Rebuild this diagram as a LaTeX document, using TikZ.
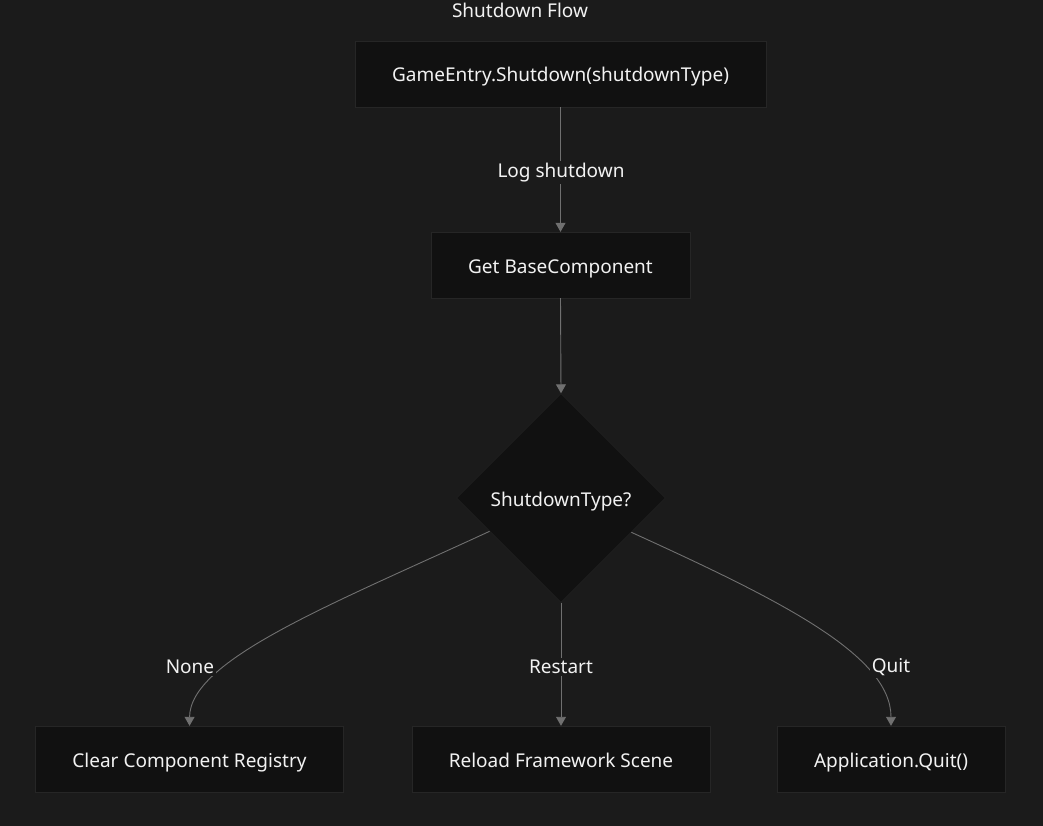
\documentclass[tikz,border=0pt]{standalone}
\usepackage{fontspec}
\setmainfont{Noto Sans}
\usetikzlibrary{shapes.geometric,arrows.meta}
\definecolor{pagebg}{RGB}{27,27,27}
\definecolor{boxfill}{RGB}{17,17,17}
\definecolor{boxline}{RGB}{38,38,38}
\definecolor{edgecol}{RGB}{112,112,112}
\definecolor{txt}{RGB}{242,242,242}
\tikzset{
  stepbox/.style={draw=boxline,fill=boxfill,text=txt,minimum height=66pt,inner xsep=37pt,text height=19pt,text depth=3pt,font=\fontsize{19}{22}\selectfont},
  choice/.style={diamond,draw=boxline,fill=boxfill,text=txt,minimum size=209pt,inner sep=0pt,aspect=1,text height=19pt,text depth=2pt,font=\fontsize{19}{22}\selectfont},
  edgelbl/.style={fill=pagebg,text=txt,inner sep=2pt,font=\fontsize{19}{22}\selectfont},
  flow/.style={draw=edgecol,line width=0.9pt,-{Triangle[width=10pt,length=9pt]}}
}
\begin{document}
\begin{tikzpicture}[x=1pt,y=-1pt]
\fill[pagebg] (0,0) rectangle (1043,826);
\useasboundingbox (0,0) rectangle (1043,826);
\node[text=txt,font=\fontsize{19}{22}\selectfont] (title) at (520,10) {Shutdown Flow};
\node[stepbox] (entry) at (560.5,74) {GameEntry.Shutdown(shutdownType)};
\node[stepbox] (getbase) at (560.5,265) {Get BaseComponent};
\node[choice] (kind) at (561,498) {ShutdownType?};
\node[stepbox] (clear) at (189.5,759) {Clear Component Registry};
\node[stepbox] (reload) at (561,759) {Reload Framework Scene};
\node[stepbox] (quit) at (891,759) {Application.Quit()};
% edges
\draw[flow] (entry.south) -- (getbase.north);
\draw[flow] (getbase.south) -- (kind.north);
\draw[flow] (kind.205) .. controls (330,605) and (190,660) .. (clear.north);
\draw[flow] (kind.south) -- (reload.north);
\draw[flow] (kind.334) .. controls (780,600) and (891,655) .. (quit.north);
% edge labels
\node[edgelbl] (lbllog) at (561,173) {Log shutdown};
\node[edgelbl] (lblnone) at (190,667) {None};
\node[edgelbl] (lblrestart) at (561,667) {Restart};
\node[edgelbl] (lblquit) at (891,667) {Quit};
\end{tikzpicture}
\end{document}
